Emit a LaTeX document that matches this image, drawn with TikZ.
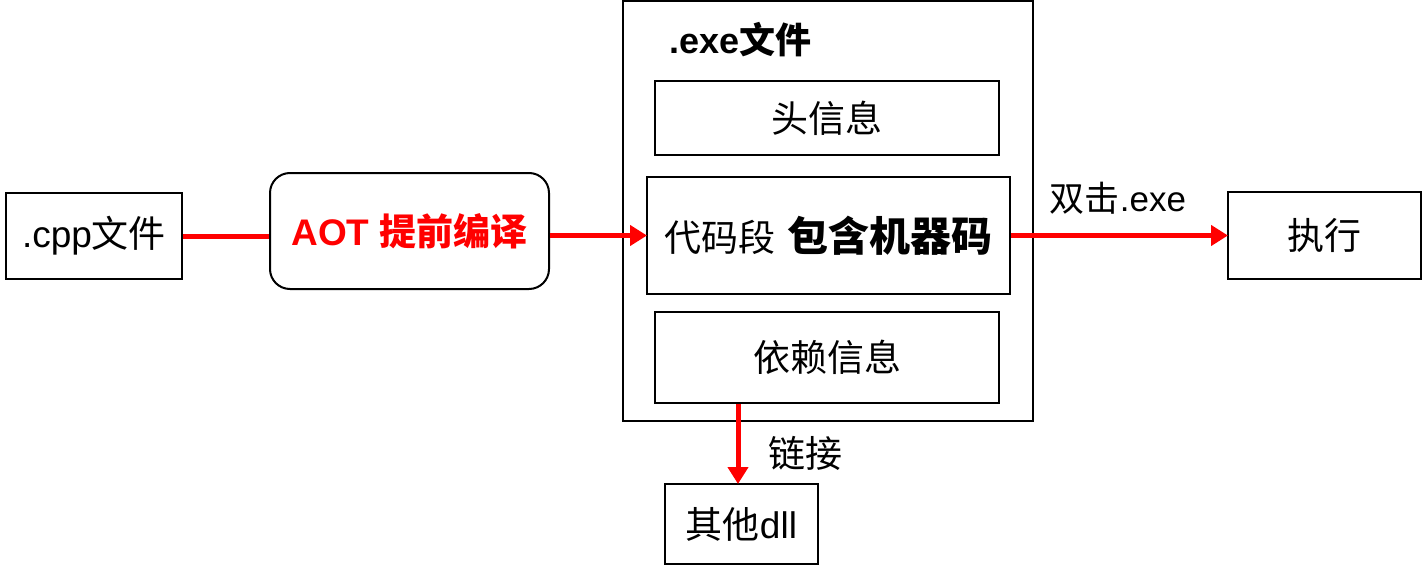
\documentclass[tikz,border=0pt]{standalone}
\usepackage{fontspec}
\setmainfont{Liberation Sans}
\newfontfamily\cjk{Noto Sans CJK SC}
\usetikzlibrary{arrows.meta}
\begin{document}
\begin{tikzpicture}[x=1pt,y=-1pt,
  box/.style={draw=black, line width=2pt, rectangle, inner sep=0pt, font=\fontsize{37}{40}\selectfont},
  redline/.style={draw=red, line width=5pt},
  redarrow/.style={redline, -{Triangle[length=17pt,width=20pt]}, shorten >=-1pt},
  lbl/.style={inner sep=0pt, font=\fontsize{37}{40}\selectfont}
]
\useasboundingbox (0,0) rectangle (1422,570);
\fill[white] (0,0) rectangle (1422,570);
% outer exe box
\node[box, minimum width=410pt, minimum height=420pt] (exe) at (828,211) {};
\node[lbl, anchor=west, font=\fontsize{36}{40}\selectfont\bfseries] (exelbl) at (669,40) {.exe{\cjk 文件}};
\node[box, minimum width=344pt, minimum height=74pt] (head) at (827,118) {\cjk 头信息};
\node[box, minimum width=363pt, minimum height=117pt] (code) at (828.5,235.5) {{\cjk 代码段}\hspace{12pt}{\cjk\bfseries\fontsize{41}{44}\selectfont 包含机器码}};
\node[box, minimum width=344pt, minimum height=91pt] (dep) at (827,357.5) {\cjk 依赖信息};
% left
\node[box, minimum width=176pt, minimum height=86pt] (cpp) at (94,236) {.cpp{\cjk 文件}};
\node[box, rounded corners=20pt, minimum width=279pt, minimum height=116pt, text=red, font=\fontsize{37}{40}\selectfont\bfseries] (aot) at (409.5,231) {AOT {\cjk\bfseries 提前编译}};
% right
\node[box, minimum width=193pt, minimum height=87pt] (exec) at (1324.5,235.5) {\cjk 执行};
% bottom
\node[box, minimum width=153pt, minimum height=80pt] (dll) at (741.5,524) {{\cjk 其他}dll};
% connectors
\draw[redline] (cpp.east) -- (cpp.east -| aot.west);
\draw[redarrow] (code.west -| aot.east) -- (code.west);
\draw[redarrow] (code.east) -- (exec.west);
\coordinate (dsrc) at (738,404);
\draw[redarrow] (dsrc) -- (dsrc |- dll.north);
% labels
\node[lbl, font=\fontsize{35}{38}\selectfont] (dbl) at (1118,198) {{\cjk 双击}.exe};
\node[lbl] (link) at (805,453) {\cjk 链接};
\end{tikzpicture}
\end{document}
